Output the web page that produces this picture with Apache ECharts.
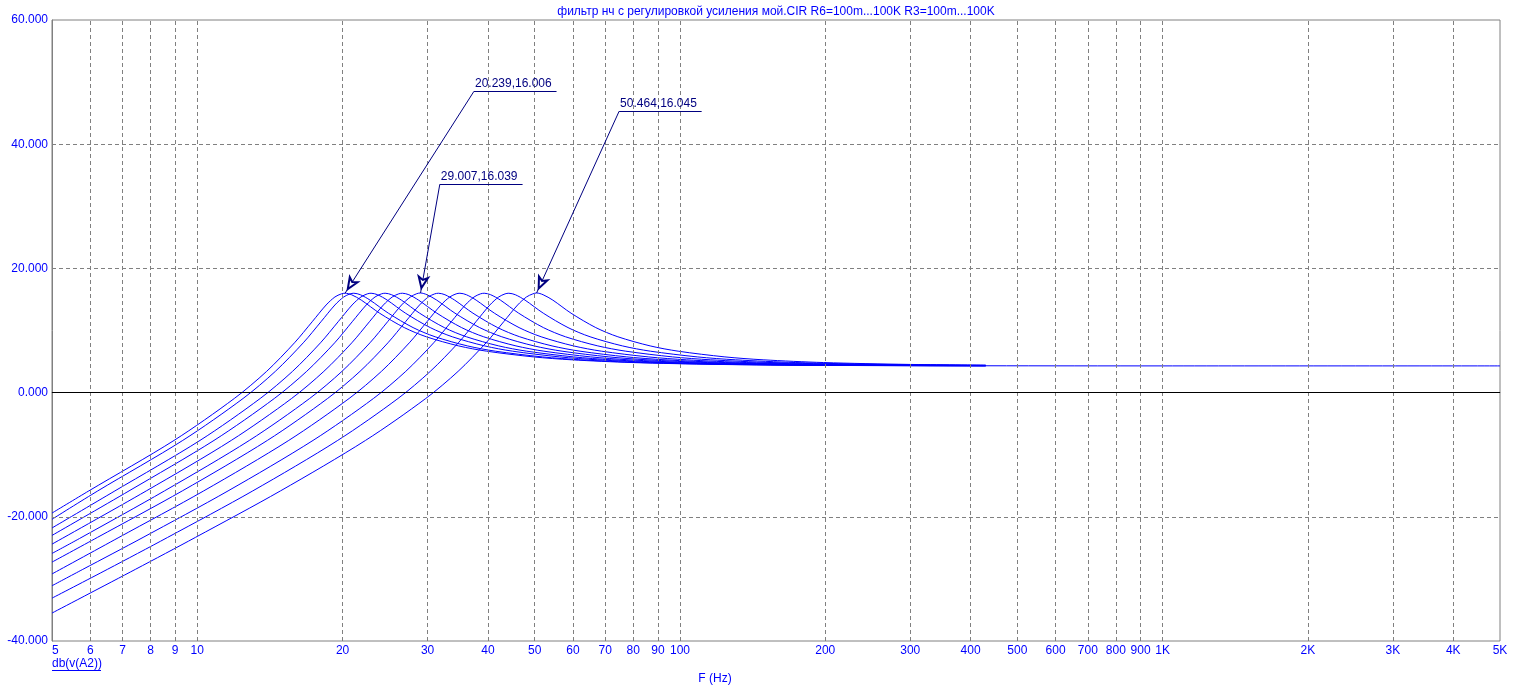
<!DOCTYPE html>
<html><head><meta charset="utf-8">
<script src="https://cdn.jsdelivr.net/npm/echarts@6/dist/echarts.min.js"></script>
<style>html,body{margin:0;padding:0;background:#fff}#chart{width:1532px;height:700px}</style>
</head><body><div id="chart"></div>
<script>
// ---------- data (frequency Hz, gain dB) ----------
const chartTitle = 'фильтр нч с регулировкой усиления мой.CIR R6=100m...100K R3=100m...100K';
const xTickValues = [5,6,7,8,9,10,20,30,40,50,60,70,80,90,100,200,300,400,500,600,700,800,900,1000,2000,3000,4000,5000];
const yTickValues = [-40,-20,0,20,40,60];
const yLabel = 'db(v(A2))';
const xLabel = 'F (Hz)';

const c1 = [[5,-19.4],[5.96,-15.83],[8.95,-7.70],[11.93,-0.95],[13.92,3.42],[15.90,8.02],[17.30,11.41],[18.49,14.11],[19.28,15.40],[19.88,15.90],[20.239,16.006],[20.87,15.76],[21.87,14.89],[23.86,12.79],[26.84,10.47],[29.82,8.99],[34.79,7.52],[39.76,6.67],[49.7,5.75],[59.64,5.28],[79.52,4.84],[119.3,4.54],[198.8,4.38],[430,4.32],[1000,4.30],[5000,4.30]];
const c2 = [[5,-20.4],[6.22,-15.83],[9.33,-7.70],[12.44,-0.95],[14.51,3.42],[16.58,8.02],[18.04,11.41],[19.28,14.11],[20.11,15.40],[20.73,15.90],[21.10,16.0],[21.77,15.76],[22.80,14.89],[24.88,12.79],[27.99,10.47],[31.10,8.99],[36.28,7.52],[41.46,6.67],[51.83,5.75],[62.19,5.28],[82.92,4.84],[124.4,4.54],[207.3,4.38],[430,4.32]];
const c3 = [[5,-21.8],[6.75,-15.83],[10.13,-7.70],[13.5,-0.95],[15.75,3.42],[18.0,8.02],[19.58,11.41],[20.93,14.11],[21.83,15.40],[22.5,15.90],[22.91,16.0],[23.63,15.76],[24.75,14.89],[27.0,12.79],[30.38,10.47],[33.75,8.99],[39.38,7.52],[45.0,6.67],[56.25,5.75],[67.5,5.28],[90.0,4.84],[135.0,4.54],[225.0,4.38],[430,4.33]];
const c4 = [[5,-23.0],[7.22,-15.83],[10.83,-7.70],[14.44,-0.95],[16.85,3.42],[19.26,8.02],[20.94,11.41],[22.39,14.11],[23.35,15.40],[24.07,15.90],[24.50,16.0],[25.27,15.76],[26.48,14.89],[28.88,12.79],[32.49,10.47],[36.11,8.99],[42.12,7.52],[48.14,6.67],[60.18,5.75],[72.21,5.28],[96.28,4.84],[144.4,4.54],[240.7,4.38],[430,4.34]];
const c5 = [[5,-24.4],[7.84,-15.83],[11.76,-7.70],[15.68,-0.95],[18.29,3.42],[20.90,8.02],[22.73,11.41],[24.30,14.11],[25.35,15.40],[26.13,15.90],[26.60,16.0],[27.44,15.76],[28.74,14.89],[31.36,12.79],[35.28,10.47],[39.20,8.99],[45.73,7.52],[52.26,6.67],[65.33,5.75],[78.39,5.28],[104.5,4.84],[156.8,4.54],[261.3,4.38],[430,4.35]];
const c6 = [[5,-25.9],[5.70,-23.5],[8.55,-15.83],[12.82,-7.70],[17.09,-0.95],[19.94,3.42],[22.79,8.02],[24.79,11.41],[26.50,14.11],[27.64,15.40],[28.49,15.93],[29.007,16.039],[29.91,15.76],[31.34,14.89],[34.19,12.79],[38.46,10.47],[42.74,8.99],[49.86,7.52],[56.98,6.67],[71.23,5.75],[85.47,5.28],[114.0,4.84],[170.9,4.54],[284.9,4.38],[430,4.34]];
const c7 = [[5,-27.3],[6.21,-23.32],[9.31,-15.83],[13.97,-7.70],[18.62,-0.95],[21.73,3.42],[24.83,8.02],[27.0,11.41],[28.87,14.11],[30.11,15.40],[31.04,15.90],[31.60,16.0],[32.59,15.76],[34.14,14.89],[37.25,12.79],[41.90,10.47],[46.56,8.99],[54.32,7.52],[62.08,6.67],[77.6,5.75],[93.12,5.28],[124.2,4.84],[186.2,4.54],[310.4,4.38],[430,4.35]];
const c8 = [[5,-29.2],[6.88,-23.32],[10.31,-15.83],[15.47,-7.70],[20.63,-0.95],[24.07,3.42],[27.50,8.02],[29.91,11.41],[31.97,14.11],[33.35,15.40],[34.38,15.90],[35.0,16.0],[36.10,15.76],[37.82,14.89],[41.26,12.79],[46.41,10.47],[51.57,8.99],[60.17,7.52],[68.76,6.67],[85.95,5.75],[103.1,5.28],[137.5,4.84],[206.3,4.54],[343.8,4.38],[430,4.36]];
const c9 = [[5,-31.1],[5.79,-28.47],[7.72,-23.32],[11.58,-15.83],[17.37,-7.70],[23.17,-0.95],[27.03,3.42],[30.89,8.02],[33.59,11.41],[35.91,14.11],[37.45,15.40],[38.61,15.90],[39.30,16.0],[40.54,15.76],[42.47,14.89],[46.33,12.79],[52.12,10.47],[57.92,8.99],[67.57,7.52],[77.22,6.67],[96.53,5.75],[115.8,5.28],[154.4,4.84],[231.7,4.54],[430,4.37]];
const c10 = [[5,-33.1],[6.51,-28.47],[8.68,-23.32],[13.03,-15.83],[19.54,-7.70],[26.05,-0.95],[30.39,3.42],[34.74,8.02],[37.78,11.41],[40.38,14.11],[42.12,15.40],[43.42,15.90],[44.20,16.0],[45.59,15.76],[47.76,14.89],[52.10,12.79],[58.62,10.47],[65.13,8.99],[75.99,7.52],[86.84,6.67],[108.6,5.75],[130.3,5.28],[173.7,4.84],[260.5,4.54],[430,4.39]];
const c11 = [[5,-35.5],[7.44,-28.47],[9.91,-23.32],[14.87,-15.83],[22.31,-7.70],[29.74,-0.95],[34.70,3.42],[39.66,8.02],[43.13,11.41],[46.10,14.11],[48.08,15.40],[49.57,15.90],[50.464,16.045],[52.05,15.76],[54.53,14.89],[59.48,12.79],[66.92,10.47],[74.36,8.99],[86.75,7.52],[99.14,6.67],[123.9,5.75],[148.7,5.28],[198.3,4.84],[297.4,4.54],[430,4.42]];

const peakPoints = [[20.239,16.006],[29.007,16.039],[50.464,16.045]];
const peakTexts = ['20.239,16.006','29.007,16.039','50.464,16.045'];

// ---------- layout / style ----------
const FONT = '"Liberation Sans", Arial, sans-serif';
const BLUE = '#0000ff';
const NAVY = '#000080';
const GRID_GRAY = '#808080';
// label elbow and underline end, in data coordinates
const labelAnchors = [
  {elbow:[37.43,48.52], end:[55.5,48.52]},
  {elbow:[31.8,33.54], end:[47.2,33.54]},
  {elbow:[74.8,45.30], end:[110.9,45.30]}
];

const curves = [c1,c2,c3,c4,c5,c6,c7,c8,c9,c10,c11];
const series = [];

// grid lines
const gridLines = xTickValues.filter(v => v > 5 && v < 5000).map(v => ({xAxis: v}))
  .concat(yTickValues.filter(v => v > -40 && v < 60 && v !== 0).map(v => ({yAxis: v})));
gridLines.push({yAxis: 0, lineStyle: {color: '#000000', type: 'solid', width: 1}});
series.push({
  type: 'line', data: [], z: 1, silent: true, animation: false,
  markLine: {silent: true, animation: false, symbol: ['none','none'], label: {show: false},
    lineStyle: {color: GRID_GRAY, type: [4,3], width: 1}, data: gridLines}
});

curves.forEach(d => series.push({
  type: 'line', data: d, z: 3, silent: true, animation: false,
  showSymbol: false, symbol: 'none', smooth: 0.3,
  lineStyle: {color: BLUE, width: 1}
}));

const annData = [];
peakPoints.forEach((p, i) => {
  const a = labelAnchors[i];
  annData.push([{coord: p, symbol: 'emptyArrow', symbolSize: [7, 11], symbolOffset: [0, 5]}, {coord: a.elbow, symbol: 'none'}]);
  annData.push([
    {coord: a.elbow, symbol: 'none', label: {show: true, position: 'insideStartTop', formatter: peakTexts[i], distance: [1, 2],
      color: NAVY, fontSize: 12, fontFamily: FONT}},
    {coord: a.end, symbol: 'none'}
  ]);
});
series.push({
  type: 'line', data: [], z: 5, silent: true, animation: false,
  markLine: {silent: true, animation: false, symbol: ['none','none'], label: {show: false},
    lineStyle: {color: NAVY, type: 'solid', width: 1}, data: annData}
});

const chart = echarts.init(document.getElementById('chart'), null, {renderer: 'canvas'});
chart.setOption({
  animation: false,
  backgroundColor: '#ffffff',
  grid: {left: 52, top: 20, width: 1448, height: 621, show: true, borderColor: GRID_GRAY, borderWidth: 1, containLabel: false},
  xAxis: {
    type: 'log', logBase: 10, min: 5, max: 5000,
    axisLine: {show: true, lineStyle: {color: GRID_GRAY}},
    axisTick: {show: false}, splitLine: {show: false}, minorTick: {show: false}, minorSplitLine: {show: false},
    axisLabel: {
      customValues: xTickValues,
      formatter: v => v >= 1000 ? Math.round(v / 1000) + 'K' : String(Math.round(v)),
      color: BLUE, fontSize: 12, fontFamily: FONT, margin: 4,
      showMinLabel: true, showMaxLabel: true, hideOverlap: false, alignMinLabel: 'left'
    }
  },
  yAxis: {
    type: 'value', min: -40, max: 60, interval: 20,
    axisLine: {show: true, lineStyle: {color: GRID_GRAY}},
    axisTick: {show: false}, splitLine: {show: false},
    axisLabel: {formatter: v => v.toFixed(3), color: BLUE, fontSize: 12, fontFamily: FONT, margin: 4}
  },
  graphic: [
    {type: 'text', x: 776, y: 12, style: {text: chartTitle, fill: BLUE, font: '12px ' + FONT, textAlign: 'center', textVerticalAlign: 'middle'}},
    {type: 'text', x: 52, y: 664, style: {text: yLabel, fill: BLUE, font: '12px ' + FONT, textAlign: 'left', textVerticalAlign: 'middle'}},
    {type: 'line', shape: {x1: 52, y1: 670.5, x2: 101, y2: 670.5}, style: {stroke: BLUE, lineWidth: 1}},
    {type: 'text', x: 715, y: 679, style: {text: xLabel, fill: BLUE, font: '12px ' + FONT, textAlign: 'center', textVerticalAlign: 'middle'}}
  ],
  series: series
});
</script></body></html>
